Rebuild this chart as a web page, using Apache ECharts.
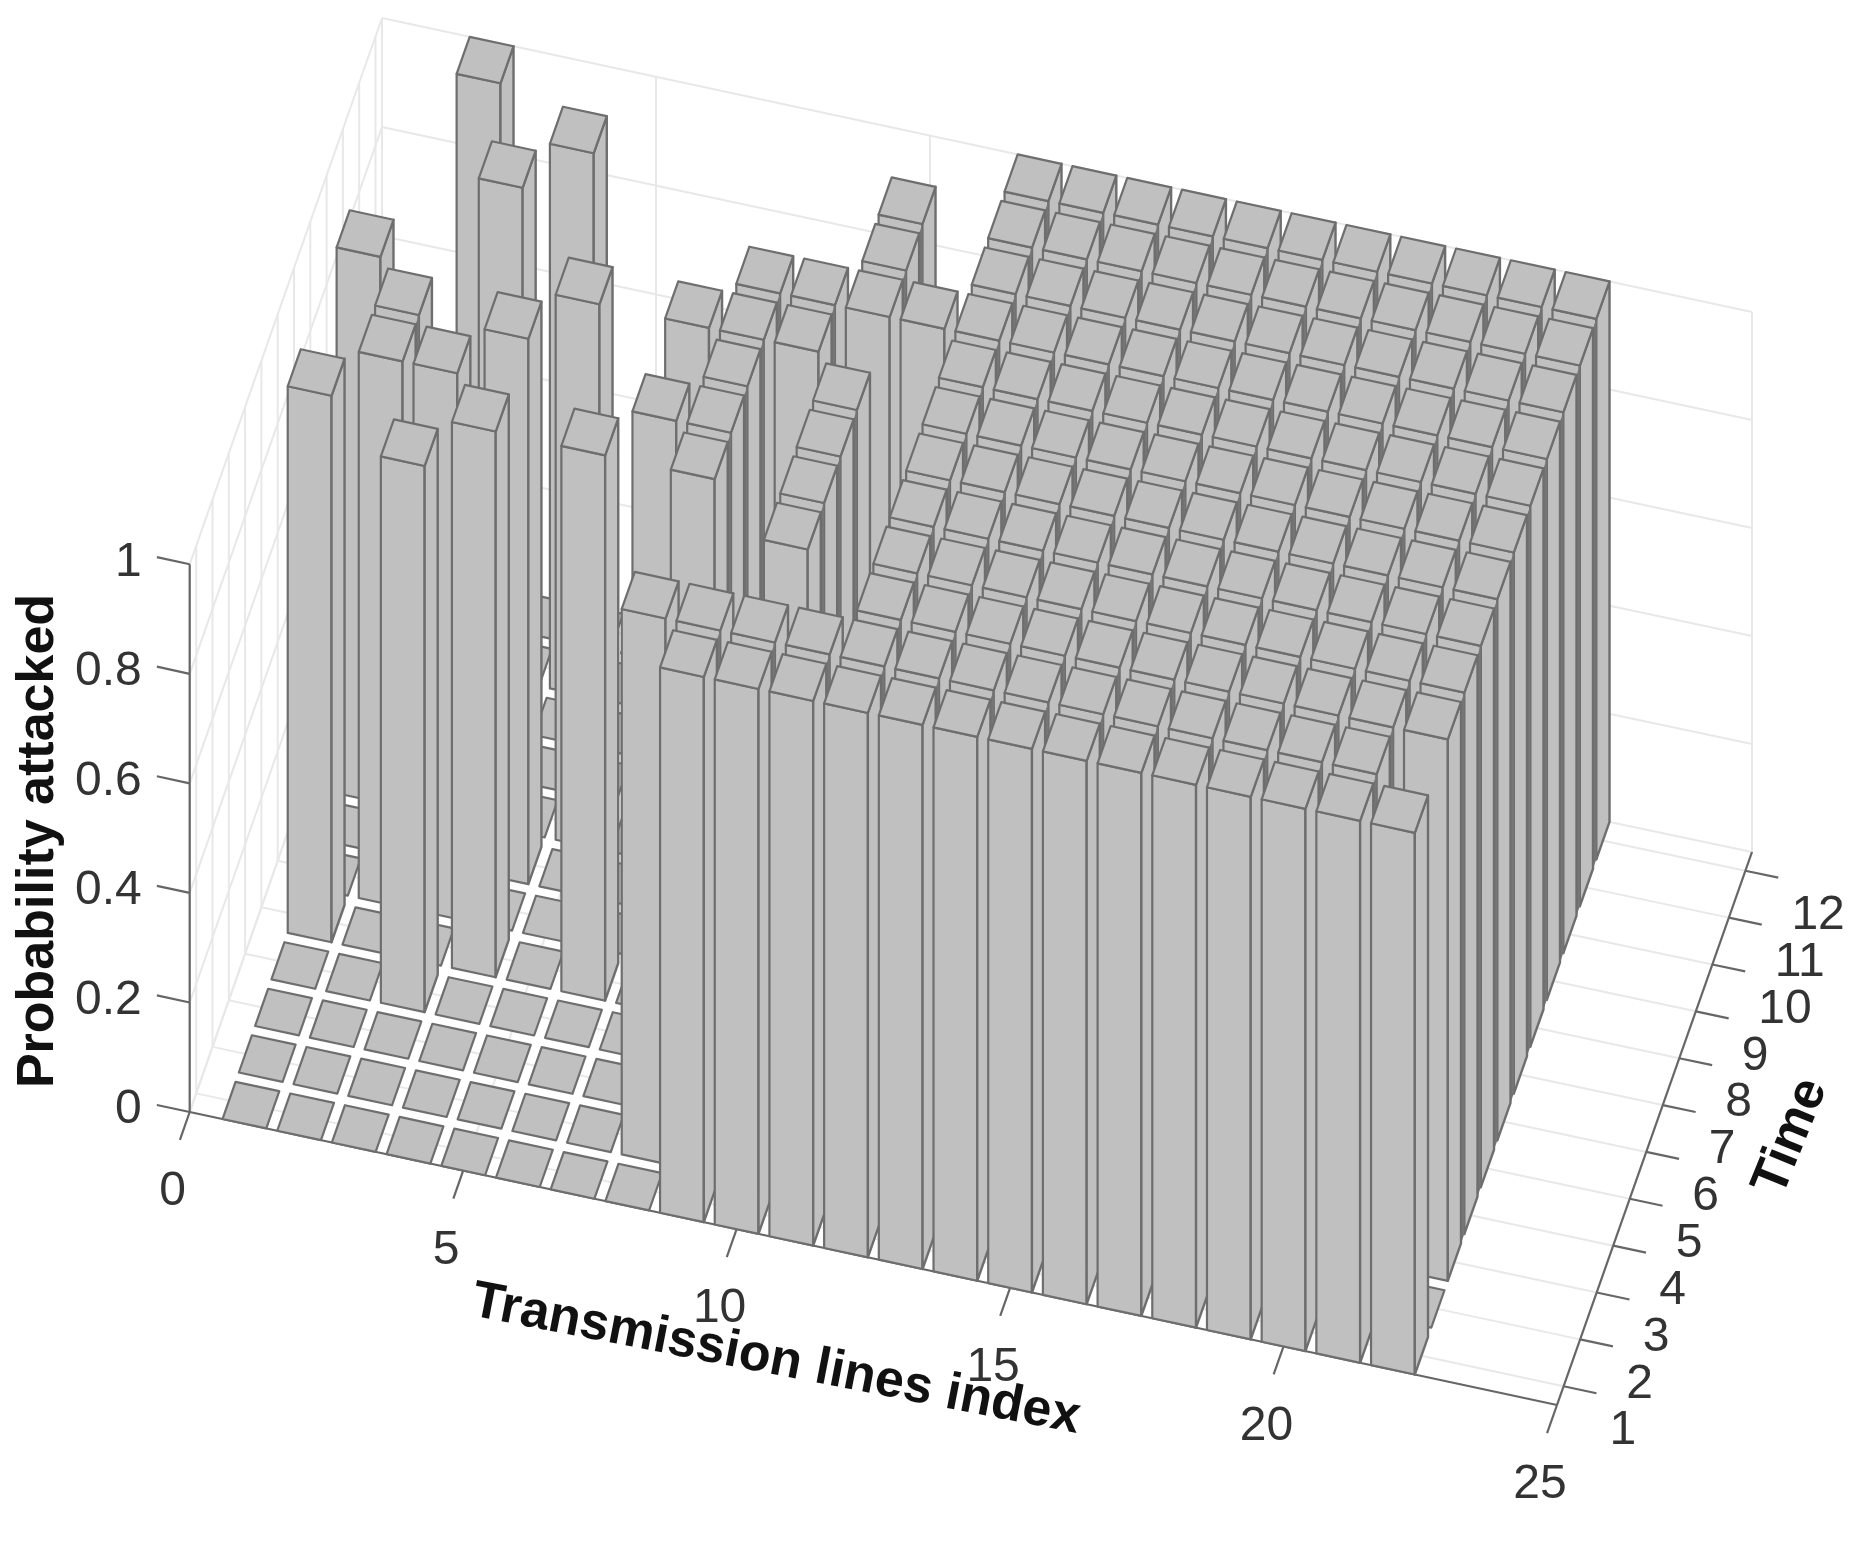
<!DOCTYPE html>
<html><head><meta charset="utf-8">
<style>html,body{margin:0;padding:0;background:#fff}#c{width:1871px;height:1549px;filter:blur(0.6px)}</style>
<script src="https://cdn.jsdelivr.net/npm/echarts@6/dist/echarts.min.js"></script>
</head><body><div id="c"></div>
<script>
// Probability attacked, one row per time step, lines 1..22
const lineIndex=[1,2,3,4,5,6,7,8,9,10,11,12,13,14,15,16,17,18,19,20,21,22];
const time1 =[0,0,0,0,0,0,0,0,1,1,1,1,1,1,1,1,1,1,1,1,1,1];
const time2 =[0,0,0,0,0,0,0,1,1,1,1,1,1,1,1,1,1,1,1,1,1,0];
const time3 =[0,0,0,0,0,0,0,0,0,0,0,1,1,1,1,1,1,1,1,1,1,1];
const time4 =[0,0,1,0,0,0,0,0,0,1,0,1,1,1,1,1,1,1,1,1,1,1];
const time5 =[1,0,0,1,0,1,0,1,0,1,0,1,1,1,1,1,1,1,1,1,1,1];
const time6 =[0,1,1,0,0,0,1,1,0,1,0,1,1,1,1,1,1,1,1,1,1,1];
const time7 =[0,1,0,1,0,0,0,1,0,1,0,1,1,1,1,1,1,1,1,1,1,1];
const time8 =[1,0,0,0,1,0,1,1,1,0,0,1,1,1,1,1,1,1,1,1,1,1];
const time9 =[0,0,0,0,0,0,0,1,1,1,1,1,1,1,1,1,1,1,1,1,1,1];
const time10=[0,0,1,0,0,0,0,0,0,1,0,1,1,1,1,1,1,1,1,1,1,1];
const time11=[0,0,0,1,0,0,0,0,0,1,0,1,1,1,1,1,1,1,1,1,1,1];
const time12=[0,1,0,0,0,0,0,0,0,0,0,1,1,1,1,1,1,1,1,1,1,1];
const rows=[time1,time2,time3,time4,time5,time6,time7,time8,time9,time10,time11,time12];
const xTicks=[0,5,10,15,20,25];
const timeTicks=[1,2,3,4,5,6,7,8,9,10,11,12];
const zTicks=[0,0.2,0.4,0.6,0.8,1];
const zLabels=['0','0.2','0.4','0.6','0.8','1'];

// view projection (line index, time, probability) -> plane of the page
const T0=0.6,T1=12.4,XMAX=25,BAR=0.4;
const FL=[189.7,1112,547.7],FR=[1557,1405,541],BL=[382,563,545],BR=[1752,852,540];
function proj(x,t,z){
  const u=x/XMAX,v=(t-T0)/(T1-T0);
  const m=i=>FL[i]*(1-u)*(1-v)+FR[i]*u*(1-v)+BL[i]*(1-u)*v+BR[i]*u*v;
  return [m(0),m(1)-z*m(2)];
}

const bars=[];
for(let r=rows.length-1;r>=0;r--){rows[r].forEach((v,i)=>bars.push([lineIndex[i],r+1,v]));}

const EDGE='#6e6e6e',FACE='#c0c0c0',GRID='#e8e8e8',AX='#666666',TXT='#333333',SLOT='#767676';
const poly=(api,pts,fill,w)=>({type:'polygon',shape:{points:pts.map(p=>api.coord(proj(p[0],p[1],p[2])))},
  style:{fill:fill,stroke:w?EDGE:null,lineWidth:w,lineJoin:'round'},silent:true});
const seg=(api,a,b,color,w)=>{const p=api.coord(proj(a[0],a[1],a[2])),q=api.coord(proj(b[0],b[1],b[2]));
  return {type:'line',shape:{x1:p[0],y1:p[1],x2:q[0],y2:q[1]},style:{stroke:color,lineWidth:w},silent:true};};

function renderBar(params,api){
  const x=api.value(0),t=api.value(1),z=api.value(2);
  const a=x-BAR,b=x+BAR,f=t-BAR,k=t+BAR;
  const kids=[];
  if(z>0){
    kids.push(poly(api,[[a,f,0],[b,f,0],[b,f,z],[a,f,z]],FACE,2.2));
    kids.push(poly(api,[[b,f,0],[b,k,0],[b,k,z],[b,f,z]],FACE,2.4));
    // dark slot seen between this bar and the next one in front of it
    if(t>1 && rows[t-2][x-1]>0){
      const g=t-1+BAR;
      kids.push(poly(api,[[b,g,0],[b,f,0],[b,f,z],[b,g,z]],SLOT,0));
    }
  }
  kids.push(poly(api,[[a,f,z],[b,f,z],[b,k,z],[a,k,z]],FACE,2.2));
  return {type:'group',children:kids};
}
function renderWalls(params,api){
  const kids=[],G=2;
  zTicks.forEach(z=>{
    kids.push(seg(api,[0,T0,z],[0,T1,z],GRID,G));
    kids.push(seg(api,[0,T1,z],[XMAX,T1,z],GRID,G));
  });
  timeTicks.forEach(t=>{
    kids.push(seg(api,[0,t,0],[0,t,1],GRID,G));
    kids.push(seg(api,[0,t,0],[XMAX,t,0],GRID,G));
  });
  [T0,T1].forEach(t=>{kids.push(seg(api,[0,t,0],[0,t,1],GRID,G));});
  xTicks.forEach(x=>{
    kids.push(seg(api,[x,T0,0],[x,T1,0],GRID,G));
    kids.push(seg(api,[x,T1,0],[x,T1,1],GRID,G));
  });
  kids.push(seg(api,[XMAX,T0,0],[XMAX,T1,0],GRID,G));
  return {type:'group',children:kids};
}
const label=(api,text,pt,dx,dy,align)=>{const p=api.coord(proj(pt[0],pt[1],pt[2]));
  return {type:'text',x:p[0]+dx,y:p[1]+dy,silent:true,
    style:{text:text,fill:TXT,font:'48px "Liberation Sans"',align:align,verticalAlign:'middle'}};};
const title=(text,x,y,deg)=>({type:'text',x:x,y:y,rotation:deg*Math.PI/180,silent:true,
    style:{text:text,fill:'#111',font:'bold 52px "Liberation Sans"',align:'center',verticalAlign:'middle'}});
function renderAxes(params,api){
  const kids=[];
  const L=0.6,W=2.2;
  kids.push(seg(api,[0,T0,0],[XMAX,T0,0],AX,W));
  kids.push(seg(api,[XMAX,T0,0],[XMAX,T1,0],AX,W));
  kids.push(seg(api,[0,T0,0],[0,T0,1],AX,W));
  xTicks.forEach(x=>{
    kids.push(seg(api,[x,T0,0],[x,T0-L,0],AX,W));
    kids.push(label(api,String(x),[x,T0,0],-17,80,'center'));
  });
  timeTicks.forEach(t=>{
    kids.push(seg(api,[XMAX,t,0],[XMAX+L,t,0],AX,W));
    kids.push(label(api,String(t),[XMAX,t,0],46,45,'left'));
  });
  zTicks.forEach((z,i)=>{
    kids.push(seg(api,[0,T0,z],[-L,T0,z],AX,W));
    kids.push(label(api,zLabels[i],[0,T0,z],-48,-2,'right'));
  });
  kids.push(title('Probability attacked',39,841,90));
  kids.push(title('Transmission lines index',776,1360,-11));
  kids.push(title('Time',1791,1137,68));
  return {type:'group',children:kids};
}
const chart=echarts.init(document.getElementById('c'),null,{renderer:'canvas'});
chart.setOption({
  animation:false,backgroundColor:'#fff',
  grid:{left:0,right:0,top:0,bottom:0},
  xAxis:{type:'value',min:0,max:1871,show:false},
  yAxis:{type:'value',min:0,max:1549,inverse:true,show:false},
  series:[
    {type:'custom',coordinateSystem:'cartesian2d',data:[[0,0]],renderItem:renderWalls,silent:true,clip:false},
    {type:'custom',coordinateSystem:'cartesian2d',data:[[0,0]],renderItem:renderAxes,silent:true,clip:false},
    {type:'custom',coordinateSystem:'cartesian2d',data:bars,renderItem:renderBar,silent:true,clip:false,
     encode:{x:0,y:1},dimensions:['line','time','p']}
  ]
});
</script></body></html>
